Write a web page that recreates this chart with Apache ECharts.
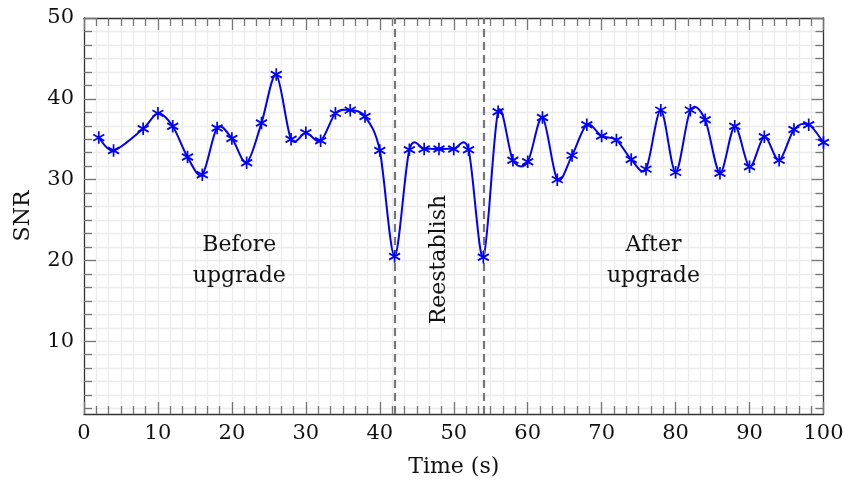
<!DOCTYPE html>
<html>
<head>
<meta charset="utf-8">
<script src="https://cdn.jsdelivr.net/npm/echarts@6/dist/echarts.min.js"></script>
<style>
  html, body { margin: 0; padding: 0; background: #ffffff; }
  #chart { width: 845px; height: 482px; }
</style>
</head>
<body>
<div id="chart"></div>
<script>
// Measured SNR over time
const timeS = [2, 4, 8, 10, 12, 14, 16, 18, 20, 22, 24, 26, 28, 30, 32, 34, 36, 38, 40, 42,
  44, 46, 48, 50, 52, 54, 56, 58, 60, 62, 64, 66, 68, 70, 72, 74, 76, 78, 80, 82,
  84, 86, 88, 90, 92, 94, 96, 98, 100];
const snr = [35.2, 33.6, 36.3, 38.2, 36.6, 32.8, 30.6, 36.4, 35.1, 32.1, 37.0, 43.0, 35.0, 35.8, 34.8, 38.2, 38.6, 37.8, 33.6, 20.5,
  33.7, 33.8, 33.8, 33.8, 33.7, 20.4, 38.4, 32.4, 32.2, 37.7, 30.0, 33.0, 36.8, 35.4, 34.9, 32.5, 31.3, 38.6, 30.9, 38.6,
  37.4, 30.8, 36.6, 31.6, 35.3, 32.4, 36.2, 36.8, 34.6];

// Phase boundaries (dashed) and phase captions
const phaseBoundaries = [42, 54];
const captionText = ['Before\nupgrade', 'Reestablish', 'After\nupgrade'];
const captionX = [21, 48, 77];
const captionY = [20.0, 20.1, 20.0];
const captionRotate = [0, 90, 0];

// Axis ranges and tick labels
const xRange = [0, 100];
const yRange = [1, 50];
const yMajorTicks = [10, 20, 30, 40, 50];
const minorPerMajor = 6;

// minor y ticks: six subdivisions of every 10 units, within the axis range
const yMinorTicks = [];
for (let k = 1; k * 10 / minorPerMajor <= yRange[1]; k++) {
  const v = k * 10 / minorPerMajor;
  if (k % minorPerMajor !== 0 && v >= yRange[0]) yMinorTicks.push(v);
}

const FONT = 'DejaVu Serif';
const TEXT = '#111111';
const FRAME = '#333333';
const TICK = '#767676';
const GRIDC = '#ececec';
const BLUE = '#0000ff';

// cardinal-spline tension used for the smoothed curve
const TENSION = 0.2775 * 0.55;

const chart = echarts.init(document.getElementById('chart'), null, { renderer: 'canvas' });

const frameLine = { show: true, lineStyle: { color: FRAME, width: 1.3 } };
const majorTick = (vals) => ({ show: true, inside: true, length: 12, customValues: vals, lineStyle: { color: TICK, width: 1.3 } });
const minorTickY = (vals) => ({ show: true, inside: true, length: 8, customValues: vals, lineStyle: { color: TICK, width: 1.3 } });

const xBase = {
  type: 'value', min: xRange[0], max: xRange[1], interval: 10,
  axisLine: frameLine,
  axisTick: { show: true, inside: true, length: 12, lineStyle: { color: TICK, width: 1.3 } },
  minorTick: { show: true, splitNumber: minorPerMajor, length: 8, lineStyle: { color: TICK, width: 1.3 } }
};

const yBase = { type: 'value', min: yRange[0], max: yRange[1] };

// one cubic segment of the smoothed curve between sample i and i+1
function renderSegment(params, api) {
  const i = params.dataIndex;
  const n = timeS.length;
  if (i >= n - 1) return null;
  const P = (j) => {
    const c = Math.min(Math.max(j, 0), n - 1);
    return api.coord([timeS[c], snr[c]]);
  };
  const p0 = P(i - 1), p1 = P(i), p2 = P(i + 1), p3 = P(i + 2);
  return {
    type: 'bezierCurve',
    shape: {
      x1: p1[0], y1: p1[1],
      x2: p2[0], y2: p2[1],
      cpx1: p1[0] + TENSION * (p2[0] - p0[0]),
      cpy1: p1[1] + TENSION * (p2[1] - p0[1]),
      cpx2: p2[0] - TENSION * (p3[0] - p1[0]),
      cpy2: p2[1] - TENSION * (p3[1] - p1[1])
    },
    style: { fill: 'none', stroke: BLUE, lineWidth: 2 }
  };
}

const option = {
  animation: false,
  backgroundColor: '#ffffff',
  grid: { left: 84, top: 18, right: 21.5, bottom: 68, containLabel: false, outerBoundsMode: 'none' },
  xAxis: [
    Object.assign({}, xBase, {
      position: 'bottom',
      splitLine: { show: true, lineStyle: { color: GRIDC, width: 1.3 } },
      minorSplitLine: { show: true, lineStyle: { color: GRIDC, width: 1.3 } },
      axisLabel: { fontFamily: FONT, fontSize: 21, color: TEXT, margin: 9 },
      name: 'Time (s)', nameLocation: 'middle', nameGap: 42,
      nameTextStyle: { fontFamily: FONT, fontSize: 22, color: TEXT }
    }),
    Object.assign({}, xBase, {
      position: 'top',
      splitLine: { show: false },
      axisLabel: { show: false }
    })
  ],
  yAxis: [
    Object.assign({}, yBase, {
      position: 'left',
      axisLine: frameLine,
      axisTick: majorTick(yMajorTicks),
      axisLabel: { customValues: yMajorTicks, fontFamily: FONT, fontSize: 21, color: TEXT, margin: 10 },
      splitLine: { show: true, lineStyle: { color: GRIDC, width: 1.3 } },
      name: 'SNR', nameLocation: 'middle', nameGap: 50,
      nameTextStyle: { fontFamily: FONT, fontSize: 22, color: TEXT }
    }),
    Object.assign({}, yBase, {
      position: 'left',
      axisLine: { show: false },
      axisTick: minorTickY(yMinorTicks),
      axisLabel: { show: false },
      splitLine: { show: true, lineStyle: { color: GRIDC, width: 1.3 } }
    }),
    Object.assign({}, yBase, {
      position: 'right',
      axisLine: frameLine,
      axisTick: majorTick(yMajorTicks),
      axisLabel: { show: false },
      splitLine: { show: false }
    }),
    Object.assign({}, yBase, {
      position: 'right',
      axisLine: { show: false },
      axisTick: minorTickY(yMinorTicks),
      axisLabel: { show: false },
      splitLine: { show: false }
    })
  ],
  series: [
    {
      name: 'SNR curve',
      type: 'custom',
      xAxisIndex: 0,
      yAxisIndex: 0,
      silent: true,
      data: timeS.map((t, i) => [t, snr[i]]),
      encode: { x: 0, y: 1 },
      renderItem: renderSegment,
      z: 4,
      markLine: {
        silent: true,
        symbol: ['none', 'none'],
        label: { show: false },
        lineStyle: { color: '#777777', type: [8, 5], width: 2.2, opacity: 1 },
        data: phaseBoundaries.map(v => ({ xAxis: v }))
      }
    },
    {
      name: 'SNR',
      type: 'line',
      xAxisIndex: 0,
      yAxisIndex: 0,
      silent: true,
      data: timeS.map((t, i) => [t, snr[i]]),
      symbol: 'path://M0,-10 L0,10 M-8.66,-5 L8.66,5 M-8.66,5 L8.66,-5',
      symbolSize: [11, 12.5],
      lineStyle: { opacity: 0 },
      itemStyle: { color: BLUE, borderColor: BLUE, borderWidth: 1.8 },
      z: 5
    },
    {
      name: 'captions',
      type: 'scatter',
      xAxisIndex: 0,
      yAxisIndex: 0,
      silent: true,
      symbolSize: 0,
      itemStyle: { opacity: 1 },
      data: captionText.map((t, i) => ({ name: t, value: [captionX[i], captionY[i]],
        label: { rotate: captionRotate[i] } })),
      label: {
        show: true, position: 'inside', formatter: p => p.name,
        fontFamily: FONT, fontSize: 22, lineHeight: 31, color: TEXT, opacity: 1,
        textBorderWidth: 0, textBorderColor: 'transparent',
        align: 'center', verticalAlign: 'middle'
      },
      z: 6
    }
  ]
};

chart.setOption(option);
</script>
</body>
</html>
